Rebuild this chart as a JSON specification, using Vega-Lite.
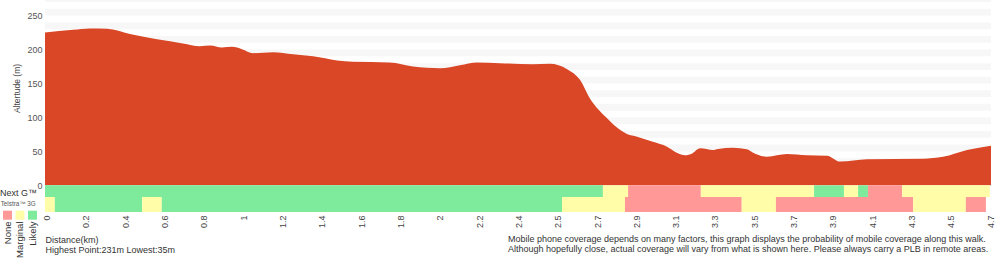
{
  "$schema": "https://vega.github.io/schema/vega-lite/v6.json",
  "width": 946,
  "height": 212,
  "autosize": {"type": "none"},
  "padding": {"left": 45, "top": 0, "right": 9, "bottom": 48},
  "config": {
    "view": {"stroke": null},
    "font": "Liberation Sans",
    "axis": {"labelFont": "Liberation Sans", "titleFont": "Liberation Sans"},
    "axisX": {"labelOverlap": false},
    "text": {"font": "Liberation Sans"}
  },
  "datasets": {
    "profile": [
      {"d": -0.04, "alt": 225}, {"d": 0.67, "alt": 229}, {"d": 1.10, "alt": 231}, {"d": 1.54, "alt": 230.5},
      {"d": 2.12, "alt": 223}, {"d": 2.81, "alt": 215}, {"d": 3.47, "alt": 209}, {"d": 3.90, "alt": 205},
      {"d": 4.16, "alt": 206}, {"d": 4.46, "alt": 203}, {"d": 4.72, "alt": 204}, {"d": 4.97, "alt": 200.5},
      {"d": 5.25, "alt": 194.7}, {"d": 5.76, "alt": 196}, {"d": 6.27, "alt": 193}, {"d": 6.78, "alt": 190},
      {"d": 7.39, "alt": 184}, {"d": 7.79, "alt": 182}, {"d": 8.73, "alt": 181}, {"d": 9.32, "alt": 175},
      {"d": 10.01, "alt": 172.5}, {"d": 10.51, "alt": 177}, {"d": 10.95, "alt": 181}, {"d": 11.53, "alt": 180},
      {"d": 12.37, "alt": 178.5}, {"d": 12.80, "alt": 179}, {"d": 13.24, "alt": 171}, {"d": 13.57, "alt": 155},
      {"d": 13.82, "alt": 128}, {"d": 14.25, "alt": 99}, {"d": 14.50, "alt": 85.4}, {"d": 14.76, "alt": 75.6},
      {"d": 15.02, "alt": 71.6}, {"d": 15.42, "alt": 64.2}, {"d": 15.78, "alt": 57}, {"d": 16.03, "alt": 48},
      {"d": 16.24, "alt": 44.2}, {"d": 16.42, "alt": 47}, {"d": 16.62, "alt": 54.5}, {"d": 16.95, "alt": 52},
      {"d": 17.08, "alt": 53.5}, {"d": 17.46, "alt": 55.4}, {"d": 17.81, "alt": 53}, {"d": 17.97, "alt": 48},
      {"d": 18.32, "alt": 42.1}, {"d": 18.83, "alt": 46}, {"d": 19.34, "alt": 44.2}, {"d": 19.85, "alt": 43.7},
      {"d": 20.18, "alt": 35}, {"d": 20.87, "alt": 38.3}, {"d": 22.29, "alt": 39.2}, {"d": 22.80, "alt": 42},
      {"d": 23.41, "alt": 52}, {"d": 24.02, "alt": 58.4}
    ],
    "coverage": [
      {"net": "NextG", "s": -0.04, "e": 14.15, "cov": "Likely"},
      {"net": "NextG", "s": 14.15, "e": 14.79, "cov": "Marginal"},
      {"net": "NextG", "s": 14.79, "e": 16.64, "cov": "None"},
      {"net": "NextG", "s": 16.64, "e": 19.52, "cov": "Marginal"},
      {"net": "NextG", "s": 19.52, "e": 20.28, "cov": "Likely"},
      {"net": "NextG", "s": 20.28, "e": 20.64, "cov": "Marginal"},
      {"net": "NextG", "s": 20.64, "e": 20.89, "cov": "Likely"},
      {"net": "NextG", "s": 20.89, "e": 21.76, "cov": "None"},
      {"net": "NextG", "s": 21.76, "e": 23.99, "cov": "Marginal"},
      {"net": "3G", "s": -0.04, "e": 0.21, "cov": "Marginal"},
      {"net": "3G", "s": 0.21, "e": 2.43, "cov": "Likely"},
      {"net": "3G", "s": 2.43, "e": 2.93, "cov": "Marginal"},
      {"net": "3G", "s": 2.93, "e": 13.11, "cov": "Likely"},
      {"net": "3G", "s": 13.11, "e": 14.71, "cov": "Marginal"},
      {"net": "3G", "s": 14.71, "e": 17.68, "cov": "None"},
      {"net": "3G", "s": 17.68, "e": 18.55, "cov": "Marginal"},
      {"net": "3G", "s": 18.55, "e": 22.04, "cov": "None"},
      {"net": "3G", "s": 22.04, "e": 23.38, "cov": "Marginal"},
      {"net": "3G", "s": 23.38, "e": 23.89, "cov": "None"}
    ],
    "bands": [
      {"lo": 10, "hi": 20}, {"lo": 30, "hi": 40}, {"lo": 50, "hi": 60}, {"lo": 70, "hi": 80},
      {"lo": 90, "hi": 100}, {"lo": 110, "hi": 120}, {"lo": 130, "hi": 140}, {"lo": 150, "hi": 160},
      {"lo": 170, "hi": 180}, {"lo": 190, "hi": 200}, {"lo": 210, "hi": 220}, {"lo": 230, "hi": 240},
      {"lo": 250, "hi": 260}, {"lo": 270, "hi": 280}
    ],
    "legend": [{"cov": "None"}, {"cov": "Marginal"}, {"cov": "Likely"}]
  },
  "resolve": {"scale": {"x": "independent"}},
  "layer": [
    {
      "layer": [
        {
          "data": {"name": "bands"},
          "mark": {"type": "rect", "color": "#f7f7f7", "clip": true},
          "encoding": {
            "y": {"field": "lo", "type": "quantitative", "scale": {"domain": [-39.3, 273], "nice": false, "zero": false}},
            "y2": {"field": "hi"}
          }
        },
        {
          "data": {"name": "profile"},
          "mark": {"type": "area", "color": "#d94727", "interpolate": "monotone"},
          "encoding": {
            "x": {
              "field": "d", "type": "quantitative",
              "scale": {"domain": [-0.04, 24.02], "nice": false, "zero": false},
              "axis": {
                "values": [0,1,2,3,4,5,6,7,8,9,10,11,12,13,14,15,16,17,18,19,20,21,22,23,24],
                "tickCount": 40,
                "labelExpr": "['0','0.2','0.4','0.6','0.8','1','1.2','1.4','1.6','1.8','2','2.2','2.4','2.5','2.7','2.9','3.1','3.3','3.5','3.7','3.9','4.1','4.3','4.5','4.7'][round(datum.value)]",
                "labelAngle": -90, "labelFontSize": 9, "labelColor": "#444", "labelPadding": 3,
                "labelOverlap": false, "labelFlush": false,
                "domain": false, "ticks": false, "grid": false,
                "title": ["Distance(km)", "Highest Point:231m Lowest:35m"],
                "titleAnchor": "start", "titleAlign": "left", "titleFontSize": 9,
                "titleFontWeight": "normal", "titleColor": "#333", "titlePadding": 8, "titleLineHeight": 9.5
              }
            },
            "y": {
              "field": "alt", "type": "quantitative",
              "scale": {"domain": [-39.3, 273], "nice": false, "zero": false},
              "axis": {
                "values": [0, 50, 100, 150, 200, 250],
                "domain": false, "ticks": false, "grid": false,
                "labelFontSize": 9, "labelColor": "#555", "labelPadding": 3,
                "title": "Altertude (m)", "titleFontSize": 8.5, "titleFontWeight": "normal",
                "titleColor": "#444", "titlePadding": 5, "titleY": 88
              }
            },
            "y2": {"datum": 0}
          }
        },
        {
          "data": {"name": "coverage"},
          "transform": [{"filter": "datum.net == 'NextG'"}],
          "mark": {"type": "rect"},
          "encoding": {
            "x": {"field": "s", "type": "quantitative"},
            "x2": {"field": "e"},
            "y": {"datum": 0, "type": "quantitative"},
            "y2": {"datum": -17.2},
            "color": {"field": "cov", "type": "nominal", "legend": null,
              "scale": {"domain": ["None", "Marginal", "Likely"], "range": ["#ff9896", "#fffda8", "#7deb9b"]}}
          }
        },
        {
          "data": {"name": "coverage"},
          "transform": [{"filter": "datum.net == '3G'"}],
          "mark": {"type": "rect"},
          "encoding": {
            "x": {"field": "s", "type": "quantitative"},
            "x2": {"field": "e"},
            "y": {"datum": -17.2, "type": "quantitative"},
            "y2": {"datum": -39.3},
            "color": {"field": "cov", "type": "nominal", "legend": null}
          }
        },
        {
          "data": {"values": [{}]},
          "mark": {"type": "text", "align": "right", "baseline": "middle", "fontSize": 9, "color": "#333", "text": "Next G™"},
          "encoding": {
            "x": {"datum": -0.243, "type": "quantitative"},
            "y": {"datum": -10.6, "type": "quantitative"}
          }
        },
        {
          "data": {"values": [{}]},
          "mark": {"type": "text", "align": "right", "baseline": "middle", "fontSize": 6.3, "color": "#555", "text": "Telstra™ 3G"},
          "encoding": {
            "x": {"datum": -0.276, "type": "quantitative"},
            "y": {"datum": -27.8, "type": "quantitative"}
          }
        },
        {
          "data": {"values": [{}]},
          "mark": {"type": "text", "align": "left", "baseline": "top", "fontSize": 9, "color": "#333", "lineHeight": 9.5,
            "text": ["Mobile phone coverage depends on many factors, this graph displays the probability of mobile coverage along this walk.",
                     "Although hopefully close, actual coverage will vary from what is shown here. Please always carry a PLB in remote areas."]},
          "encoding": {
            "x": {"datum": 11.735, "type": "quantitative"},
            "y": {"datum": -73.2, "type": "quantitative"}
          }
        }
      ]
    },
    {
      "data": {"name": "legend"},
      "encoding": {
        "x": {"field": "cov", "type": "nominal", "axis": null,
          "scale": {"type": "point", "domain": ["None", "Marginal", "Likely"], "range": [-37.5, -12.5], "padding": 0}}
      },
      "layer": [
        {
          "mark": {"type": "square", "size": 81, "opacity": 1, "filled": true},
          "encoding": {
            "y": {"datum": -44, "type": "quantitative"},
            "color": {"field": "cov", "type": "nominal", "legend": null}
          }
        },
        {
          "mark": {"type": "text", "angle": 270, "align": "right", "baseline": "middle", "fontSize": 9.5, "color": "#333"},
          "encoding": {
            "y": {"datum": -53.3, "type": "quantitative"},
            "text": {"field": "cov"}
          }
        }
      ]
    }
  ]
}
